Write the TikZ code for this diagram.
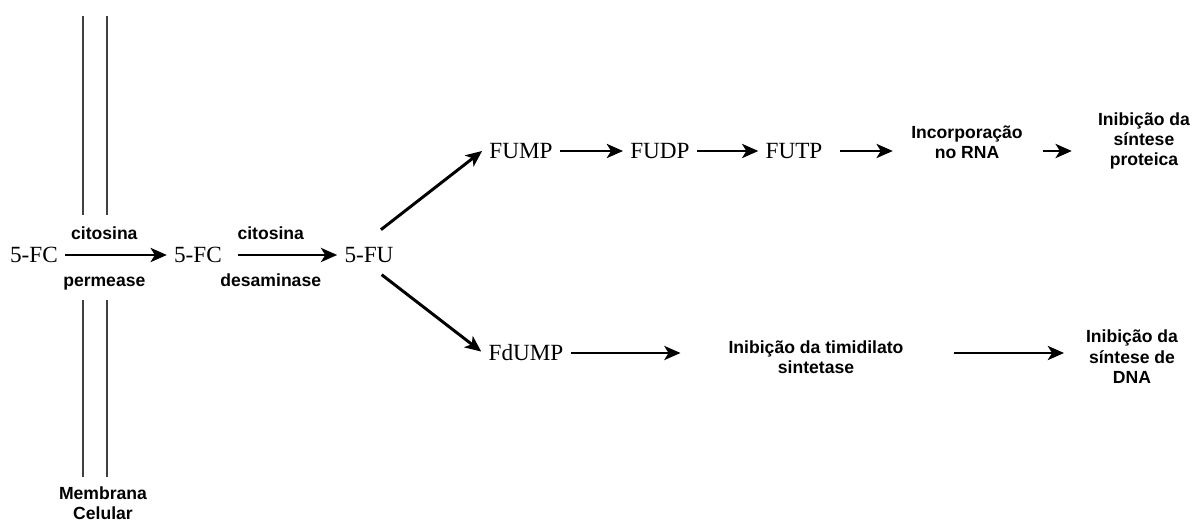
\documentclass[tikz,border=0pt]{standalone}
\usepackage{fontspec}
\setmainfont{Liberation Serif}
\setsansfont{Liberation Sans}
\usetikzlibrary{calc,arrows.meta}

\begin{document}
\begin{tikzpicture}[x=0.025cm,y=-0.025cm,
	chem/.style={font=\fontsize{16.5}{18}\selectfont,inner xsep=5pt,inner ysep=2pt},
	lbl/.style={font=\sffamily\bfseries\fontsize{12.5}{14.5}\selectfont,align=center,inner xsep=5pt,inner ysep=1pt},
	enz/.style={font=\sffamily\bfseries\fontsize{12.5}{14.5}\selectfont,text height=9pt,text depth=2.6pt,inner sep=0pt},
	arr/.style={-{Stealth[length=11.5pt,width=10pt,inset=3pt]},line width=2.1pt},
	memb/.style={line width=1.9pt,draw=black!75}]
	\useasboundingbox (0,0) rectangle (1192,524);
	% membrana celular
	\draw[memb] (83,16) -- (83,215);
	\draw[memb] (107,16) -- (107,215);
	\draw[memb] (83,300) -- (83,477);
	\draw[memb] (107,300) -- (107,477);
	\node[lbl,inner ysep=0pt] (cel) at (103,503) {Membrana\\Celular};
	% compostos
	\node[chem] (fc1) at (34,255) {5-FC};
	\node[chem] (fc2) at (198,255) {5-FC};
	\node[chem] (fu) at (369,255) {5-FU};
	\node[chem] (fump) at (521,151) {FUMP};
	\node[chem] (fudp) at (660,151) {FUDP};
	\node[chem] (futp) at (794,151) {FUTP};
	\node[chem] (fdump) at (526,353) {FdUMP};
	% efeitos
	\node[lbl] (rna) at (967,142) {Incorporação\\no RNA};
	\node[lbl] (prot) at (1144,141) {Inibição da\\síntese\\proteica};
	\node[lbl] (tim) at (816,357) {Inibição da timidilato\\sintetase};
	\node[lbl] (dna) at (1132,357) {Inibição da\\síntese de\\DNA};
	% setas
	\draw[arr] (fc1) -- node[enz,pos=0.385,yshift=14.5pt] {citosina}
		node[enz,pos=0.385,yshift=-19.5pt] {permease} (fc2);
	\draw[arr,shorten <=6pt] (fc2) -- node[enz,pos=0.385,yshift=14.5pt] {citosina}
		node[enz,pos=0.385,yshift=-19.5pt] {desaminase} (fu);
	\draw[arr] ([xshift=8.5pt,yshift=18pt]fu.center) -- (fump.west);
	\draw[arr] ([xshift=9pt,yshift=-14pt]fu.center) -- ([yshift=1pt]fdump.west);
	\draw[arr] (fump) -- (fudp);
	\draw[arr] (fudp) -- (futp);
	\draw[arr,shorten <=7pt,shorten >=8pt] (futp.east) -- (futp.east -| rna.west);
	\draw[arr,shorten <=9pt,shorten >=13.5pt] (rna.east |- futp.east) -- (prot.west |- futp.east);
	\draw[arr,shorten >=29pt] (fdump.east) -- (fdump.east -| tim.west);
	\draw[arr,shorten <=31pt,shorten >=10.5pt] (tim.east |- fdump.east) -- (dna.west |- fdump.east);
\end{tikzpicture}
\end{document}
